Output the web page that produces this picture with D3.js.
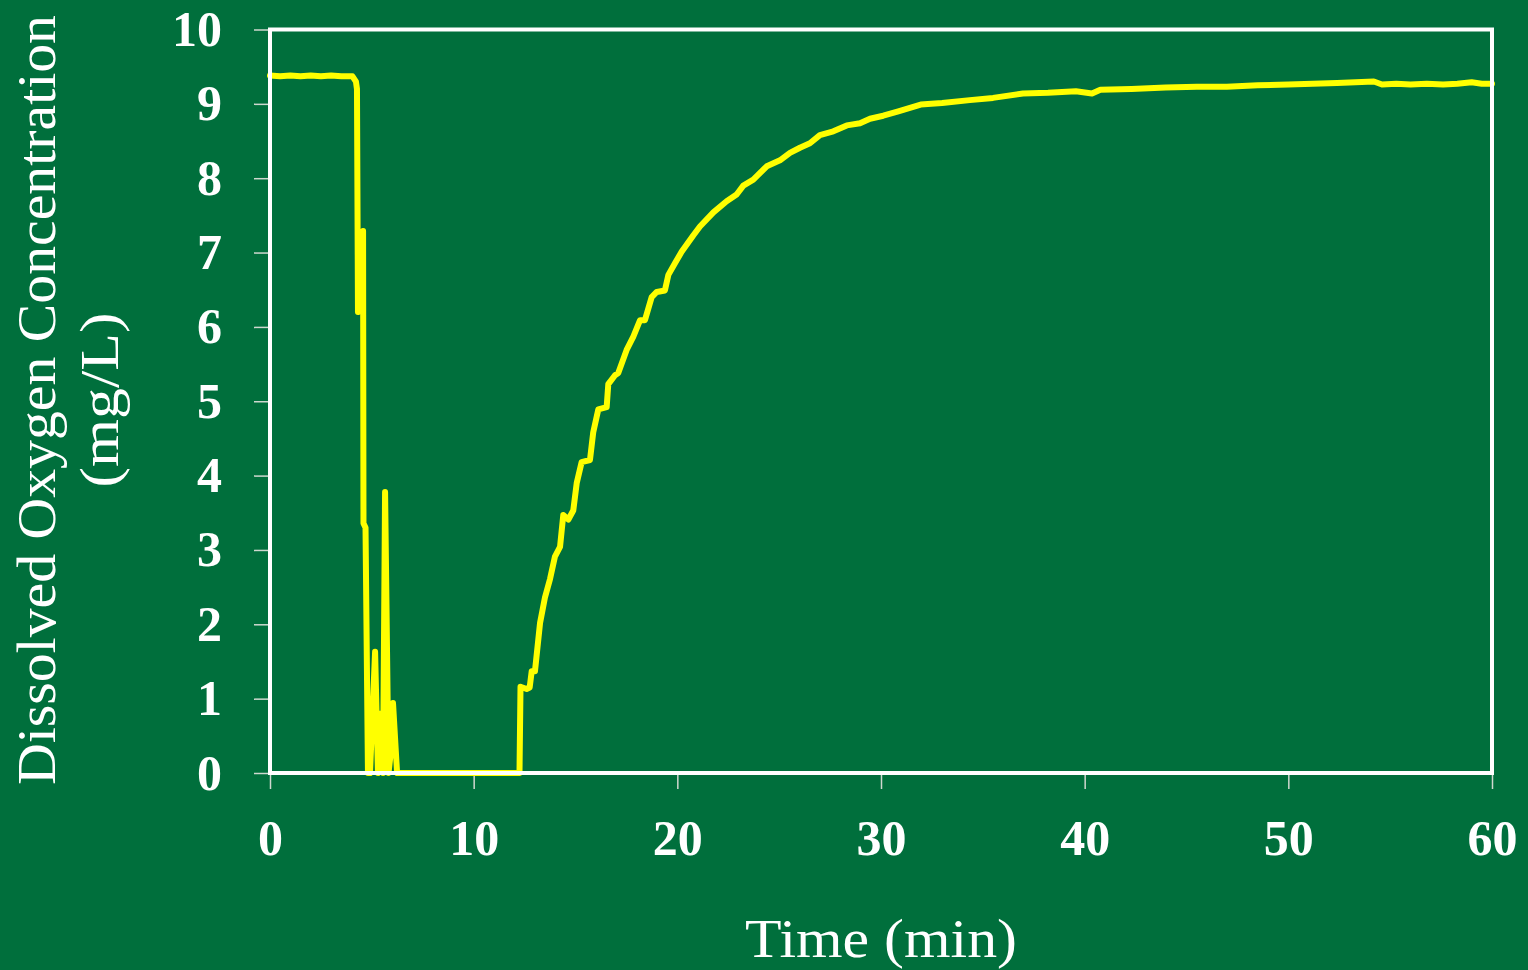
<!DOCTYPE html>
<html>
<head>
<meta charset="utf-8">
<script src="https://cdn.jsdelivr.net/npm/d3@7"></script>
<style>
    html, body { margin: 0; padding: 0; background: #006f3c; }
    #chart { width: 1528px; height: 970px; }
</style>
</head>
<body>
<div id="chart"></div>
<script>
// DATA ---------------------------------------------------------------------
const timeMin = [
    0, 0.5, 1, 1.5, 2, 2.5, 3, 3.5, 4.05, 4.22, 4.27, 4.32, 4.57, 4.59, 4.69, 4.81,
    4.91, 5.16, 5.30, 5.45, 5.55, 5.65, 5.82, 5.94, 6.04, 6.24, 12.25,
    12.30, 12.60, 12.75, 12.85, 13.01, 13.26, 13.50, 13.75, 13.99, 14.24, 14.40,
    14.65, 14.89, 15.06, 15.30, 15.71, 15.87, 16.12, 16.53, 16.61, 16.94, 17.10,
    17.51, 17.84, 18.17, 18.41, 18.74, 18.99, 19.39, 19.56, 19.89, 20.21, 20.78,
    21.11, 21.77, 22.42, 22.91, 23.24, 23.73, 24.39, 25.04, 25.53, 26.02, 26.51,
    27.00, 27.66, 28.32, 28.97, 29.46, 30.11, 30.85, 31.95, 33.0, 34.36, 35.5,
    36.97, 38.2, 39.57, 40.36, 40.77, 42.3, 43.98, 45.5, 46.98, 48.5, 49.99,
    51.2, 52.39, 53.3, 54.2, 54.6, 55.3, 56.0, 56.8, 57.6, 58.3, 59.0, 59.5, 60.0
];
const doMgL = [
    9.38, 9.37, 9.38, 9.37, 9.38, 9.37, 9.38, 9.37, 9.37, 9.30, 9.20, 6.20, 7.29, 3.36, 3.30, 0,
    0, 1.63, 0, 0.80, 0, 3.78, 0, 0.30, 0.94, 0, 0,
    1.16, 1.13, 1.15, 1.37, 1.37, 2.02, 2.36, 2.61, 2.91, 3.04, 3.47,
    3.41, 3.53, 3.90, 4.18, 4.21, 4.58, 4.89, 4.92, 5.23, 5.35, 5.38,
    5.69, 5.87, 6.09, 6.09, 6.40, 6.47, 6.49, 6.70, 6.86, 7.01, 7.23,
    7.35, 7.54, 7.69, 7.78, 7.90, 7.98, 8.16, 8.24, 8.34, 8.41, 8.47,
    8.58, 8.63, 8.71, 8.74, 8.80, 8.84, 8.90, 8.99, 9.01, 9.05, 9.08,
    9.14, 9.15, 9.17, 9.14, 9.19, 9.20, 9.22, 9.23, 9.23, 9.25, 9.26,
    9.27, 9.28, 9.29, 9.30, 9.26, 9.27, 9.26, 9.27, 9.26, 9.27, 9.29, 9.27, 9.27
];
const xTicks = [0, 10, 20, 30, 40, 50, 60];
const yTicks = [0, 1, 2, 3, 4, 5, 6, 7, 8, 9, 10];

const yTitleLines = ["Dissolved Oxygen Concentration", "(mg/L)"];
const xTitle = "Time (min)";

// SETTINGS -----------------------------------------------------------------
const width = 1528;
const height = 970;
const margins = { top: 29.5, right: 36, bottom: 197, left: 270 };
const innerWidth = width - margins.left - margins.right;
const innerHeight = height - margins.top - margins.bottom;

const bgColor = "#006f3c";
const lineColor = "#ffff00";
const tickColor = "#cfd8cf";
const serif = "'Liberation Serif', 'Times New Roman', serif";

// SVG ----------------------------------------------------------------------
const svg = d3.select("#chart")
    .append("svg")
    .attr("width", width)
    .attr("height", height);

svg.append("rect")
    .attr("width", width)
    .attr("height", height)
    .attr("fill", bgColor);

const g = svg.append("g")
    .attr("transform", `translate(${margins.left}, ${margins.top})`);

// SCALES -------------------------------------------------------------------
const x = d3.scaleLinear().domain([0, 60]).range([0, innerWidth]);
const y = d3.scaleLinear().domain([0, 10]).range([innerHeight, 0]);

// AXES ---------------------------------------------------------------------
const xAxis = g.append("g")
    .attr("transform", `translate(0, ${innerHeight})`)
    .call(d3.axisBottom(x).tickValues(xTicks).tickSize(16).tickPadding(30));

const yAxis = g.append("g")
    .call(d3.axisLeft(y).tickValues(yTicks).tickSize(16).tickPadding(32));

[xAxis, yAxis].forEach(ax => {
    ax.select(".domain").remove();
    ax.selectAll(".tick line")
        .attr("stroke", tickColor)
        .attr("stroke-width", 1.5);
    ax.selectAll(".tick text")
        .attr("fill", "#ffffff")
        .style("font-family", serif)
        .style("font-weight", "bold")
        .style("font-size", "50px");
});

// LINE ---------------------------------------------------------------------
const points = timeMin.map((t, i) => ({ t: t, v: doMgL[i] }));

const lineGenerator = d3.line()
    .x(d => x(d.t))
    .y(d => y(d.v));

g.append("path")
    .datum(points)
    .attr("d", lineGenerator)
    .attr("fill", "none")
    .attr("stroke", lineColor)
    .attr("stroke-width", 6)
    .attr("stroke-linejoin", "round")
    .attr("stroke-linecap", "round");

// FRAME --------------------------------------------------------------------
g.append("rect")
    .attr("width", innerWidth)
    .attr("height", innerHeight)
    .attr("fill", "none")
    .attr("stroke", "#ffffff")
    .attr("stroke-width", 4);

// TITLES -------------------------------------------------------------------
svg.append("text")
    .attr("x", margins.left + innerWidth / 2)
    .attr("y", 957)
    .attr("text-anchor", "middle")
    .attr("fill", "#ffffff")
    .attr("textLength", 272)
    .attr("lengthAdjust", "spacingAndGlyphs")
    .style("font-family", serif)
    .style("font-size", "54px")
    .text(xTitle);

const yTitle = svg.append("text")
    .attr("transform", "translate(0, 400) rotate(-90)")
    .attr("text-anchor", "middle")
    .attr("fill", "#ffffff")
    .style("font-family", serif)
    .style("font-size", "54px");

yTitle.append("tspan")
    .attr("x", 0)
    .attr("y", 55)
    .attr("textLength", 770)
    .attr("lengthAdjust", "spacingAndGlyphs")
    .text(yTitleLines[0]);

yTitle.append("tspan")
    .attr("x", 0)
    .attr("y", 118)
    .attr("textLength", 175)
    .attr("lengthAdjust", "spacingAndGlyphs")
    .text(yTitleLines[1]);
</script>
</body>
</html>
